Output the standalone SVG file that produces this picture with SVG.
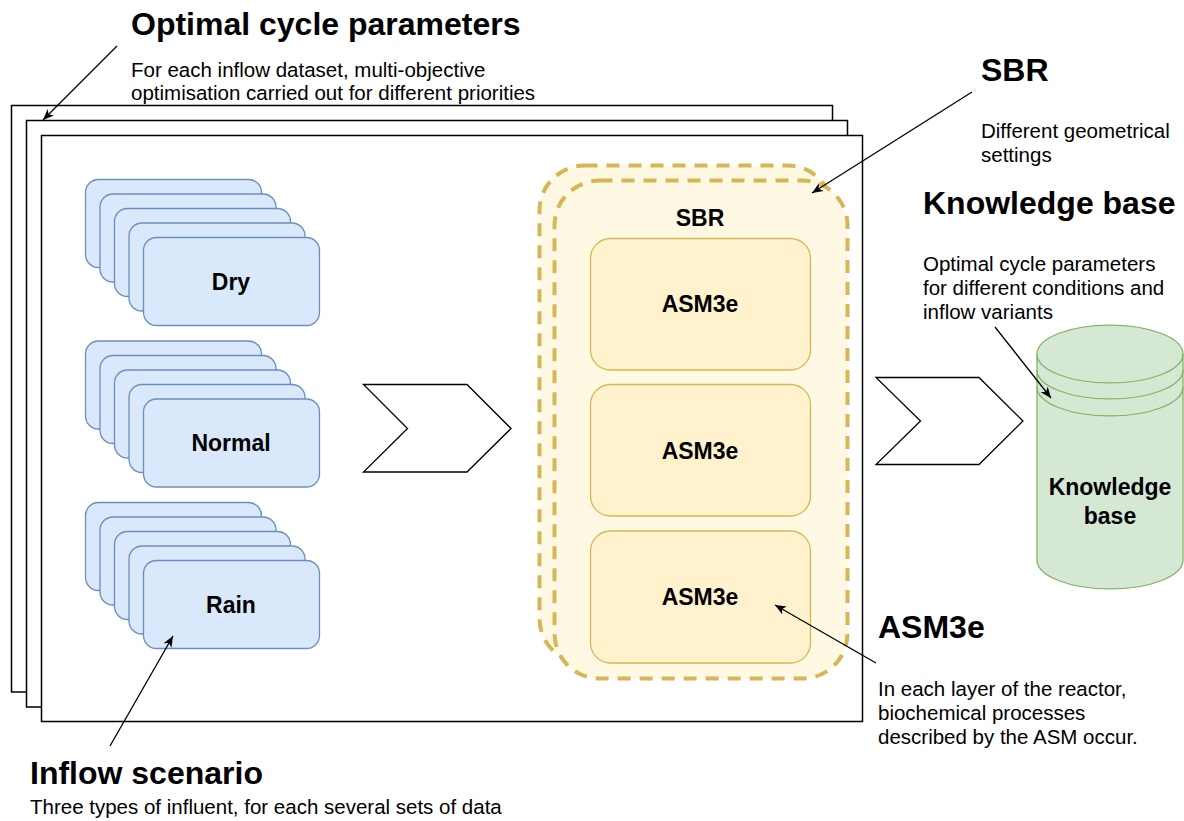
<svg xmlns="http://www.w3.org/2000/svg" width="1184" height="821" viewBox="0 0 1184 821">
<defs>
<style>
.frame{fill:#fff;stroke:#000;stroke-width:1.5}
.card{fill:#dae8fc;stroke:#6c8ebf;stroke-width:1.3}
.lbl{font-family:"Liberation Sans",Arial,sans-serif;font-weight:bold;font-size:23px;fill:#000;text-anchor:middle}
.ttl{font-family:"Liberation Sans",Arial,sans-serif;font-weight:bold;font-size:32px;fill:#000}
.dsc{font-family:"Liberation Sans",Arial,sans-serif;font-size:20.5px;fill:#000}
.sbr{fill:#fff9e3;stroke:#d6b656;stroke-width:4;stroke-dasharray:13 9}
.asm{fill:#fff2cc;stroke:#d6b656;stroke-width:1.3}
.chev{fill:#fff;stroke:#000;stroke-width:1.3;stroke-linejoin:miter}
.kb{fill:#d5e8d4;stroke:#82b366;stroke-width:1.3}
.conn{fill:none;stroke:#000;stroke-width:1.3}
</style>
<marker id="arr" markerWidth="12" markerHeight="10" refX="11" refY="5" orient="auto" markerUnits="userSpaceOnUse">
<path d="M0,0.5 L11,5 L0,9.5 L3,5 Z" fill="#000"/>
</marker>
<g id="stack">
<rect class="card" x="0" y="0" width="176" height="88" rx="13"/>
<rect class="card" x="14.5" y="14.5" width="176" height="88" rx="13"/>
<rect class="card" x="29" y="29" width="176" height="88" rx="13"/>
<rect class="card" x="43.5" y="43.5" width="176" height="88" rx="13"/>
<rect class="card" x="58" y="58" width="176" height="88" rx="13"/>
</g>
</defs>

<g id="frames">
<rect class="frame" x="11.5" y="105.5" width="821" height="586.5"/>
<rect class="frame" x="26.5" y="120.5" width="821" height="586.5"/>
<rect class="frame" x="41.5" y="135.5" width="821" height="586"/>
</g>

<g id="dry">
<use href="#stack" x="85.5" y="179.5"/>
<text class="lbl" x="231" y="290">Dry</text>
</g>
<g id="normal">
<use href="#stack" x="85.5" y="341"/>
<text class="lbl" x="231" y="451">Normal</text>
</g>
<g id="rain">
<use href="#stack" x="85.5" y="502.5"/>
<text class="lbl" x="231" y="613">Rain</text>
</g>

<g id="chevron1">
<path class="chev" d="M363.5,384.5 L467,384.5 L511,428.5 L467,472 L363.5,472 L407.5,428.5 Z"/>
</g>

<g id="sbr">
<rect class="sbr" x="539.5" y="165.5" width="293" height="498" rx="45"/>
<rect class="sbr" x="554.5" y="180.5" width="293" height="498" rx="45"/>
<text class="lbl" x="700" y="226">SBR</text>
</g>
<g id="asm1">
<rect class="asm" x="590.5" y="238.5" width="220" height="131.5" rx="20"/>
<text class="lbl" x="700" y="312">ASM3e</text>
</g>
<g id="asm2">
<rect class="asm" x="590.5" y="384.5" width="220" height="131.5" rx="20"/>
<text class="lbl" x="700" y="459">ASM3e</text>
</g>
<g id="asm3">
<rect class="asm" x="590.5" y="531" width="220" height="132" rx="20"/>
<text class="lbl" x="700" y="605">ASM3e</text>
</g>

<g id="chevron2">
<path class="chev" d="M876,377.5 L979,377.5 L1023,421 L979,464.5 L876,464.5 L920.5,421 Z"/>
</g>

<g id="knowledge-base">
<path class="kb" d="M1037,354 A73,29 0 0 1 1183,354 L1183,560 A73,29 0 0 1 1037,560 Z"/>
<path class="kb" style="fill:none" d="M1037,354 A73,29 0 0 0 1183,354 M1037,370 A73,29 0 0 0 1183,370 M1037,387 A73,29 0 0 0 1183,387"/>
<text class="lbl" x="1110" y="495">Knowledge</text>
<text class="lbl" x="1110" y="524">base</text>
</g>

<g id="note-optimal">
<text class="ttl" x="131" y="35">Optimal cycle parameters</text>
<text class="dsc" x="131" y="77">For each inflow dataset, multi-objective</text>
<text class="dsc" x="131" y="100">optimisation carried out for different priorities</text>
</g>
<g id="note-sbr">
<text class="ttl" x="981" y="81">SBR</text>
<text class="dsc" x="981" y="138">Different geometrical</text>
<text class="dsc" x="981" y="162">settings</text>
</g>
<g id="note-kb">
<text class="ttl" x="923" y="214">Knowledge base</text>
<text class="dsc" x="923" y="271">Optimal cycle parameters</text>
<text class="dsc" x="923" y="295">for different conditions and</text>
<text class="dsc" x="923" y="319">inflow variants</text>
</g>
<g id="note-asm">
<text class="ttl" x="878" y="638">ASM3e</text>
<text class="dsc" x="878" y="696">In each layer of the reactor,</text>
<text class="dsc" x="878" y="720">biochemical processes</text>
<text class="dsc" x="878" y="744">described by the ASM occur.</text>
</g>
<g id="note-inflow">
<text class="ttl" x="30" y="784">Inflow scenario</text>
<text class="dsc" x="30" y="814">Three types of influent, for each several sets of data</text>
</g>

<g id="connectors">
<line class="conn" x1="117" y1="46" x2="43" y2="120" marker-end="url(#arr)"/>
<line class="conn" x1="972" y1="92" x2="812" y2="193" marker-end="url(#arr)"/>
<line class="conn" x1="995" y1="327" x2="1051" y2="398" marker-end="url(#arr)"/>
<line class="conn" x1="876" y1="663" x2="775" y2="605" marker-end="url(#arr)"/>
<line class="conn" x1="110" y1="746" x2="173" y2="636" marker-end="url(#arr)"/>
</g>
</svg>
